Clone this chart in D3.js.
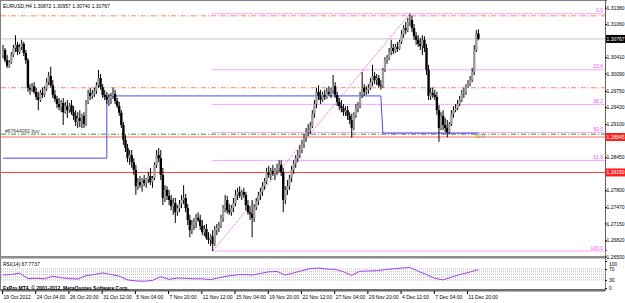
<!DOCTYPE html>
<html>
<head>
<meta charset="utf-8">
<script src="https://cdn.jsdelivr.net/npm/d3@7/dist/d3.min.js"></script>
<style>
  body { margin: 0; background: #ffffff; }
  svg text { font-family: 'Liberation Sans', Arial, sans-serif; font-size: 5px; }
</style>
</head>
<body>
<div id="chart"></div>
<script>
// EURUSD H4 candles, one entry per bar (oldest first)
var opens = [
  1.3045, 1.3055, 1.3035, 1.3024, 1.3031, 1.3045, 1.3059, 1.3065, 1.3051, 1.3061,
  1.3067, 1.3049, 1.3035, 1.2981, 1.2977, 1.2984, 1.2973, 1.2963, 1.2957, 1.2971,
  1.2967, 1.2979, 1.2992, 1.3004, 1.2986, 1.2967, 1.2959, 1.2949, 1.2943, 1.2951,
  1.2933, 1.2945, 1.2937, 1.2947, 1.2933, 1.2926, 1.2914, 1.2922, 1.2916, 1.2926,
  1.2910, 1.2953, 1.2971, 1.2965, 1.2969, 1.2975, 1.2986, 1.3000, 1.2982, 1.2967,
  1.2963, 1.2957, 1.2961, 1.2965, 1.2969, 1.2955, 1.2945, 1.2932, 1.2908, 1.2879,
  1.2863, 1.2843, 1.2849, 1.2835, 1.2820, 1.2788, 1.2796, 1.2790, 1.2800, 1.2794,
  1.2802, 1.2808, 1.2796, 1.2804, 1.2830, 1.2849, 1.2843, 1.2810, 1.2765, 1.2781,
  1.2769, 1.2761, 1.2749, 1.2755, 1.2737, 1.2745, 1.2753, 1.2761, 1.2765, 1.2745,
  1.2722, 1.2702, 1.2712, 1.2718, 1.2726, 1.2722, 1.2710, 1.2698, 1.2704, 1.2687,
  1.2683, 1.2690, 1.2675, 1.2702, 1.2706, 1.2710, 1.2726, 1.2745, 1.2761, 1.2741,
  1.2737, 1.2745, 1.2755, 1.2771, 1.2777, 1.2769, 1.2777, 1.2771, 1.2751, 1.2737,
  1.2734, 1.2726, 1.2747, 1.2759, 1.2771, 1.2777, 1.2788, 1.2798, 1.2816, 1.2810,
  1.2818, 1.2812, 1.2820, 1.2824, 1.2830, 1.2816, 1.2761, 1.2781, 1.2788, 1.2804,
  1.2820, 1.2832, 1.2843, 1.2849, 1.2859, 1.2871, 1.2883, 1.2894, 1.2898, 1.2906,
  1.2930, 1.2949, 1.2973, 1.2965, 1.2957, 1.2967, 1.2963, 1.2973, 1.2969, 1.2975,
  1.2984, 1.2967, 1.2953, 1.2945, 1.2941, 1.2933, 1.2937, 1.2926, 1.2918, 1.2902,
  1.2928, 1.2941, 1.2947, 1.2967, 1.2981, 1.2973, 1.2977, 1.2981, 1.2992, 1.3004,
  1.2996, 1.3000, 1.2986, 1.2984, 1.3016, 1.3035, 1.3039, 1.3051, 1.3059, 1.3053,
  1.3061, 1.3057, 1.3071, 1.3086, 1.3098, 1.3094, 1.3110, 1.3114, 1.3098, 1.3082,
  1.3075, 1.3067, 1.3063, 1.3075, 1.3059, 1.3016, 1.2965, 1.2971, 1.2967, 1.2963,
  1.2937, 1.2902, 1.2926, 1.2908, 1.2902, 1.2894, 1.2910, 1.2930, 1.2937, 1.2941,
  1.2949, 1.2957, 1.2971, 1.2973, 1.2984, 1.2988, 1.2996, 1.3012, 1.3055, 1.30872
];

var highs = [
  1.3065, 1.3059, 1.3045, 1.3035, 1.3051, 1.3065, 1.3084, 1.3071, 1.3067, 1.3075,
  1.3071, 1.3055, 1.3039, 1.2988, 1.2990, 1.2992, 1.2981, 1.2973, 1.2977, 1.2981,
  1.2984, 1.3000, 1.3012, 1.3022, 1.2996, 1.2977, 1.2965, 1.2961, 1.2957, 1.2961,
  1.2953, 1.2957, 1.2951, 1.2957, 1.2945, 1.2937, 1.2933, 1.2937, 1.2930, 1.2933,
  1.2957, 1.2977, 1.2981, 1.2977, 1.2981, 1.2992, 1.3016, 1.3008, 1.2988, 1.2977,
  1.2973, 1.2969, 1.2971, 1.2981, 1.2977, 1.2961, 1.2953, 1.2937, 1.2914, 1.2888,
  1.2871, 1.2859, 1.2859, 1.2843, 1.2830, 1.2804, 1.2808, 1.2804, 1.2810, 1.2804,
  1.2816, 1.2824, 1.2808, 1.2835, 1.2859, 1.2863, 1.2859, 1.2824, 1.2790, 1.2788,
  1.2781, 1.2771, 1.2765, 1.2765, 1.2751, 1.2761, 1.2771, 1.2790, 1.2773, 1.2753,
  1.2732, 1.2722, 1.2726, 1.2734, 1.2737, 1.2732, 1.2722, 1.2712, 1.2714, 1.2698,
  1.2694, 1.2702, 1.2710, 1.2714, 1.2718, 1.2732, 1.2751, 1.2771, 1.2769, 1.2753,
  1.2751, 1.2765, 1.2781, 1.2785, 1.2788, 1.2781, 1.2785, 1.2777, 1.2761, 1.2749,
  1.2761, 1.2753, 1.2765, 1.2777, 1.2785, 1.2796, 1.2804, 1.2824, 1.2828, 1.2824,
  1.2830, 1.2824, 1.2832, 1.2839, 1.2839, 1.2824, 1.2788, 1.2800, 1.2810, 1.2828,
  1.2839, 1.2849, 1.2859, 1.2869, 1.2879, 1.2890, 1.2902, 1.2910, 1.2914, 1.2937,
  1.2957, 1.2981, 1.2986, 1.2977, 1.2973, 1.2977, 1.2981, 1.2984, 1.2981, 1.3006,
  1.2992, 1.2973, 1.2961, 1.2957, 1.2949, 1.2945, 1.2945, 1.2933, 1.2930, 1.2933,
  1.2949, 1.2953, 1.2973, 1.3012, 1.2988, 1.2984, 1.2988, 1.3000, 1.3026, 1.3012,
  1.3008, 1.3006, 1.2996, 1.3020, 1.3041, 1.3045, 1.3059, 1.3075, 1.3067, 1.3067,
  1.3071, 1.3075, 1.3094, 1.3104, 1.3110, 1.3118, 1.3126, 1.3122, 1.3106, 1.3090,
  1.3084, 1.3079, 1.3084, 1.3082, 1.3067, 1.3026, 1.2981, 1.2981, 1.2977, 1.2973,
  1.2947, 1.2933, 1.2937, 1.2922, 1.2918, 1.2914, 1.2937, 1.2945, 1.2949, 1.2957,
  1.2965, 1.2977, 1.2981, 1.2988, 1.2996, 1.3004, 1.3020, 1.3065, 1.3094, 1.30957
];

var lows = [
  1.3039, 1.3031, 1.3020, 1.3020, 1.3028, 1.3041, 1.3051, 1.3045, 1.3047, 1.3055,
  1.3043, 1.3028, 1.2973, 1.2967, 1.2973, 1.2969, 1.2957, 1.2937, 1.2953, 1.2961,
  1.2963, 1.2975, 1.2986, 1.2981, 1.2961, 1.2953, 1.2941, 1.2937, 1.2933, 1.2908,
  1.2930, 1.2922, 1.2932, 1.2928, 1.2918, 1.2906, 1.2902, 1.2904, 1.2902, 1.2902,
  1.2906, 1.2949, 1.2957, 1.2959, 1.2963, 1.2969, 1.2981, 1.2977, 1.2961, 1.2957,
  1.2949, 1.2945, 1.2949, 1.2959, 1.2949, 1.2941, 1.2926, 1.2902, 1.2869, 1.2855,
  1.2835, 1.2830, 1.2824, 1.2810, 1.2771, 1.2781, 1.2785, 1.2777, 1.2788, 1.2785,
  1.2794, 1.2790, 1.2785, 1.2800, 1.2824, 1.2835, 1.2800, 1.2751, 1.2757, 1.2761,
  1.2751, 1.2741, 1.2732, 1.2716, 1.2730, 1.2737, 1.2745, 1.2753, 1.2737, 1.2712,
  1.2688, 1.2694, 1.2702, 1.2706, 1.2718, 1.2702, 1.2692, 1.2690, 1.2683, 1.2675,
  1.2671, 1.2661, 1.2671, 1.2692, 1.2698, 1.2706, 1.2718, 1.2737, 1.2734, 1.2732,
  1.2730, 1.2737, 1.2749, 1.2761, 1.2765, 1.2761, 1.2765, 1.2741, 1.2732, 1.2722,
  1.2688, 1.2718, 1.2741, 1.2751, 1.2761, 1.2769, 1.2781, 1.2792, 1.2804, 1.2800,
  1.2808, 1.2800, 1.2810, 1.2816, 1.2808, 1.2737, 1.2753, 1.2771, 1.2781, 1.2796,
  1.2812, 1.2824, 1.2835, 1.2843, 1.2853, 1.2863, 1.2875, 1.2886, 1.2890, 1.2902,
  1.2922, 1.2941, 1.2957, 1.2949, 1.2953, 1.2957, 1.2959, 1.2965, 1.2961, 1.2969,
  1.2961, 1.2945, 1.2937, 1.2933, 1.2926, 1.2926, 1.2918, 1.2910, 1.2883, 1.2898,
  1.2922, 1.2933, 1.2941, 1.2961, 1.2965, 1.2967, 1.2969, 1.2977, 1.2984, 1.2988,
  1.2986, 1.2981, 1.2977, 1.2981, 1.3012, 1.3028, 1.3035, 1.3045, 1.3047, 1.3049,
  1.3051, 1.3055, 1.3067, 1.3079, 1.3086, 1.3090, 1.3102, 1.3090, 1.3075, 1.3065,
  1.3061, 1.3055, 1.3045, 1.3051, 1.3006, 1.2957, 1.2957, 1.2961, 1.2957, 1.2928,
  1.2875, 1.2898, 1.2898, 1.2894, 1.2884, 1.2890, 1.2906, 1.2922, 1.2933, 1.2937,
  1.2945, 1.2953, 1.2961, 1.2967, 1.2981, 1.2984, 1.2992, 1.3006, 1.3051, 1.30740
];

var closes = [
  1.3055, 1.3035, 1.3024, 1.3031, 1.3045, 1.3059, 1.3065, 1.3051, 1.3061, 1.3067,
  1.3049, 1.3035, 1.2981, 1.2977, 1.2984, 1.2973, 1.2963, 1.2957, 1.2971, 1.2967,
  1.2979, 1.2992, 1.3004, 1.2986, 1.2967, 1.2959, 1.2949, 1.2943, 1.2951, 1.2933,
  1.2945, 1.2937, 1.2947, 1.2933, 1.2926, 1.2914, 1.2922, 1.2916, 1.2926, 1.2910,
  1.2953, 1.2971, 1.2965, 1.2969, 1.2975, 1.2986, 1.3000, 1.2982, 1.2967, 1.2963,
  1.2957, 1.2961, 1.2965, 1.2969, 1.2955, 1.2945, 1.2932, 1.2908, 1.2879, 1.2863,
  1.2843, 1.2849, 1.2835, 1.2820, 1.2788, 1.2796, 1.2790, 1.2800, 1.2794, 1.2802,
  1.2808, 1.2796, 1.2804, 1.2830, 1.2849, 1.2843, 1.2810, 1.2765, 1.2781, 1.2769,
  1.2761, 1.2749, 1.2755, 1.2737, 1.2745, 1.2753, 1.2761, 1.2765, 1.2745, 1.2722,
  1.2702, 1.2712, 1.2718, 1.2726, 1.2722, 1.2710, 1.2698, 1.2704, 1.2687, 1.2683,
  1.2690, 1.2675, 1.2702, 1.2706, 1.2710, 1.2726, 1.2745, 1.2761, 1.2741, 1.2737,
  1.2745, 1.2755, 1.2771, 1.2777, 1.2769, 1.2777, 1.2771, 1.2751, 1.2737, 1.2734,
  1.2726, 1.2747, 1.2759, 1.2771, 1.2777, 1.2788, 1.2798, 1.2816, 1.2810, 1.2818,
  1.2812, 1.2820, 1.2824, 1.2830, 1.2816, 1.2761, 1.2781, 1.2788, 1.2804, 1.2820,
  1.2832, 1.2843, 1.2849, 1.2859, 1.2871, 1.2883, 1.2894, 1.2898, 1.2906, 1.2930,
  1.2949, 1.2973, 1.2965, 1.2957, 1.2967, 1.2963, 1.2973, 1.2969, 1.2975, 1.2984,
  1.2967, 1.2953, 1.2945, 1.2941, 1.2933, 1.2937, 1.2926, 1.2918, 1.2902, 1.2928,
  1.2941, 1.2947, 1.2967, 1.2981, 1.2973, 1.2977, 1.2981, 1.2992, 1.3004, 1.2996,
  1.3000, 1.2986, 1.2984, 1.3016, 1.3035, 1.3039, 1.3051, 1.3059, 1.3053, 1.3061,
  1.3057, 1.3071, 1.3086, 1.3098, 1.3094, 1.3110, 1.3114, 1.3098, 1.3082, 1.3075,
  1.3067, 1.3063, 1.3075, 1.3059, 1.3016, 1.2965, 1.2971, 1.2967, 1.2963, 1.2937,
  1.2902, 1.2926, 1.2908, 1.2902, 1.2894, 1.2910, 1.2930, 1.2937, 1.2941, 1.2949,
  1.2957, 1.2971, 1.2973, 1.2984, 1.2988, 1.2996, 1.3012, 1.3055, 1.3087, 1.30767
];

// RSI(14), read every 4th bar, plus the last bar
var rsiValues = [
  48, 50, 55, 35, 36, 34, 44, 38, 35, 33,
  46, 50, 56, 50, 44, 30, 26, 25, 28, 42,
  32, 37, 36, 34, 34, 31, 38, 44, 48, 50,
  48, 54, 60, 61, 48, 56, 64, 72, 74, 70,
  69, 60, 47, 62, 63, 64, 68, 71, 74, 76,
  62, 50, 36, 30, 40, 50, 57, 66
];
var rsiLast = 67.7737;
var rsiLevels = [30, 40, 50, 60, 70];
var rsiAxisTicks = [0, 30, 70, 100];

// Time axis: bar index of each label
var timeBars   = [0, 16, 32, 48, 64, 80, 96, 112, 128, 144, 160, 176, 192, 208, 224];
var timeLabels = ['19 Oct 2012', '24 Oct 04:00', '26 Oct 20:00', '31 Oct 12:00', '5 Nov 04:00',
                  '7 Nov 20:00', '12 Nov 12:00', '15 Nov 04:00', '19 Nov 20:00', '22 Nov 12:00',
                  '27 Nov 04:00', '29 Nov 20:00', '4 Dec 12:00', '7 Dec 04:00', '11 Dec 20:00'];

// Price axis labels
var priceTicks = [1.3138, 1.3106, 1.3041, 1.3009, 1.2975, 1.2943, 1.2910, 1.2845,
                  1.2780, 1.2747, 1.2715, 1.2682, 1.2650];

// Horizontal objects
var currentPrice = 1.30767;
var orangeLevels = [1.3122, 1.2981];
var buyPrice     = 1.2890;
var pinkLevel    = 1.28845;
var redLevel     = 1.28150;

// Blue step line (bar index, price)
var blueBars   = [0, 50, 50, 182, 183, 229];
var bluePrices = [1.2843, 1.2843, 1.2965, 1.2965, 1.2892, 1.2892];

// Fibonacci retracement
var fibLowBar  = 101, fibLow  = 1.2661;
var fibHighBar = 196, fibHigh = 1.3126;
var fibLevels  = [0, 23.6, 38.2, 50, 61.8, 100];


function DrawChart ()
{
    var W = 625, H = 303;
    var plotRight = 605;

    var bars = closes.map (function (c, i) {
        return { i: i, o: opens[i], h: highs[i], l: lows[i], c: c };
    });

    // Scales
    var x = d3.scaleLinear ()
              .domain ([0, 229])
              .range ([2, 477.4]);

    var y = d3.scaleLinear ()
              .domain ([1.2663, 1.3153])
              .range ([250, 0]);

    var yRsi = d3.scaleLinear ()
                 .domain ([0, 100])
                 .range ([288, 261]);

    var svg = d3.select ('#chart')
                .append ('svg')
                .attr ('width', W)
                .attr ('height', H);

    svg.append ('rect')
       .attr ('width', W).attr ('height', H)
       .attr ('fill', '#ffffff');

    var hline = function (price, color, width, dash, x0)
    {
        svg.append ('line')
           .attr ('x1', x0 === undefined ? 1 : x0)
           .attr ('x2', plotRight)
           .attr ('y1', y (price))
           .attr ('y2', y (price))
           .attr ('stroke', color)
           .attr ('stroke-width', width)
           .attr ('stroke-dasharray', dash);
    };

    // Horizontal objects
    hline (currentPrice, '#c8c8c8', 1, null);
    orangeLevels.forEach (function (p) { hline (p, '#f58a6a', 1, '5,2,1,2'); });
    hline (pinkLevel, '#ff9a9a', 1.6, null);
    hline (buyPrice, '#2e9a2e', 1, '5,2,1,2');
    hline (redLevel, '#ff3a3a', 1, null);

    // Fibonacci levels
    var fibPrice = function (lv) { return fibHigh - (fibHigh - fibLow) * lv / 100; };

    fibLevels.forEach (function (lv)
    {
        hline (fibPrice (lv), '#f050f0', 1, '1,1', x (fibLowBar) + 1);
    });

    svg.append ('line')
       .attr ('x1', x (fibLowBar) + 1).attr ('y1', y (fibLow))
       .attr ('x2', x (fibHighBar) + 1).attr ('y2', y (fibHigh))
       .attr ('stroke', '#f050f0')
       .attr ('stroke-dasharray', '1,1');

    svg.selectAll ('.fibLabel')
       .data (fibLevels)
       .join ('text')
       .attr ('class', 'fibLabel')
       .attr ('x', plotRight - 2)
       .attr ('y', function (d) { return y (fibPrice (d)) - 1.5; })
       .attr ('text-anchor', 'end')
       .attr ('fill', '#f050f0')
       .text (d3.format ('.1f'));

    // Blue step line
    var blueLine = d3.line ()
                     .x (function (d, i) { return x (d) + 1; })
                     .y (function (d, i) { return y (bluePrices[i]); });

    svg.append ('path')
       .datum (blueBars)
       .attr ('d', blueLine)
       .attr ('fill', 'none')
       .attr ('stroke', '#4a4af5')
       .attr ('stroke-width', 1);

    // Candles
    var candles = svg.append ('g')
                     .selectAll ('g')
                     .data (bars)
                     .join ('g');

    candles.append ('line')
           .attr ('x1', function (d) { return x (d.i) + 1; })
           .attr ('x2', function (d) { return x (d.i) + 1; })
           .attr ('y1', function (d) { return y (d.h); })
           .attr ('y2', function (d) { return y (d.l); })
           .attr ('stroke', '#000')
           .attr ('stroke-width', 1);

    candles.append ('rect')
           .attr ('x', function (d) { return x (d.i) - 0.2; })
           .attr ('width', 2.4)
           .attr ('y', function (d) { return y (Math.max (d.o, d.c)); })
           .attr ('height', function (d) { return Math.max (1, Math.abs (y (d.o) - y (d.c))); })
           .attr ('fill', function (d) { return d.c >= d.o ? '#9c9c9c' : '#000'; });

    // Text on the chart
    svg.append ('text')
       .attr ('x', 3).attr ('y', 8)
       .attr ('fill', '#000')
       .text ('EURUSD,H4  ' + [opens[229], highs[229], lows[229], closes[229]].map (d3.format ('.5f')).join (' '));

    svg.append ('text')
       .attr ('x', 5).attr ('y', y (buyPrice) - 1.5)
       .attr ('fill', '#404040')
       .text ('#67644092 buy');

    svg.append ('text')
       .attr ('x', x (228)).attr ('y', y (buyPrice) + 4)
       .attr ('fill', '#8c9c20')
       .attr ('font-size', 4)
       .text ('50.0');

    // Panel frame and separators
    svg.append ('rect')
       .attr ('x', 0.5).attr ('y', 0.5)
       .attr ('width', plotRight).attr ('height', 290)
       .attr ('fill', 'none')
       .attr ('stroke', '#808080');

    svg.append ('rect')
       .attr ('x', 1).attr ('y', 256).attr ('width', plotRight - 1).attr ('height', 2.5)
       .attr ('fill', '#8c8c8c');

    svg.append ('rect')
       .attr ('x', 1).attr ('y', 289).attr ('width', plotRight - 1).attr ('height', 2.5)
       .attr ('fill', '#6e6e6e');

    // Price axis
    var yAxis = d3.axisRight (y)
                  .tickValues (priceTicks)
                  .tickFormat (d3.format ('.5f'))
                  .tickSize (2);

    var gy = svg.append ('g')
                .attr ('transform', 'translate(' + plotRight + ',0)')
                .call (yAxis);
    gy.select ('.domain').attr ('stroke', '#606060');
    gy.selectAll ('text')
      .attr ('x', 19.6)
      .attr ('text-anchor', 'end')
      .attr ('font-size', 4.5)
      .attr ('font-family', 'Liberation Sans, Arial');

    // Price boxes on the axis
    var boxes = [ { p: currentPrice, fill: '#000' },
                  { p: pinkLevel,    fill: '#ff2020' },
                  { p: redLevel,     fill: '#ff2020' } ];

    boxes.forEach (function (b)
    {
        svg.append ('rect')
           .attr ('x', plotRight + 1).attr ('y', y (b.p) - 4)
           .attr ('width', 19).attr ('height', 8)
           .attr ('fill', b.fill);
        svg.append ('text')
           .attr ('x', plotRight + 19.6).attr ('y', y (b.p) + 1.7)
           .attr ('text-anchor', 'end')
           .attr ('fill', '#fff')
           .attr ('font-size', 4.5)
           .text (d3.format ('.5f') (b.p));
    });

    // RSI panel
    rsiLevels.forEach (function (lv)
    {
        svg.append ('line')
           .attr ('x1', 1).attr ('x2', plotRight)
           .attr ('y1', yRsi (lv)).attr ('y2', yRsi (lv))
           .attr ('stroke', '#b8b8b8')
           .attr ('stroke-dasharray', '1,1');
    });

    var rsiPts = rsiValues.map (function (v, k) { return [k * 4, v]; });
    rsiPts.push ([229, rsiLast]);

    svg.append ('path')
       .datum (rsiPts)
       .attr ('d', d3.line ()
                     .x (function (d) { return x (d[0]) + 1; })
                     .y (function (d) { return yRsi (d[1]); }))
       .attr ('fill', 'none')
       .attr ('stroke', '#a040f0')
       .attr ('stroke-width', 1);

    svg.append ('text')
       .attr ('x', 3).attr ('y', 266)
       .attr ('fill', '#000')
       .text ('RSI(14) ' + rsiLast);

    var rAxis = d3.axisRight (yRsi)
                  .tickValues (rsiAxisTicks)
                  .tickSize (2)
                  .tickPadding (2);

    var gr = svg.append ('g')
                .attr ('transform', 'translate(' + plotRight + ',0)')
                .call (rAxis);
    gr.select ('.domain').remove ();
    gr.selectAll ('text')
      .attr ('font-size', function (d) { return (d === 0 || d === 100) ? 4.5 : 3.5; })
      .attr ('dy', function (d) { return d === 100 ? '0.9em' : '0.32em'; })
      .attr ('font-family', 'Liberation Sans, Arial');

    svg.append ('text')
       .attr ('x', 3).attr ('y', 290)
       .attr ('fill', '#000')
       .attr ('font-weight', 'bold')
       .attr ('font-size', 5.3)
       .text ('FxPro MT4, \u00a9 2001-2012, MetaQuotes Software Corp.');

    // Time axis
    var xAxis = d3.axisBottom (x)
                  .tickValues (timeBars)
                  .tickFormat (function (d, i) { return timeLabels[i]; })
                  .tickSize (3)
                  .tickPadding (1);

    var gx = svg.append ('g')
                .attr ('transform', 'translate(0,291)')
                .call (xAxis);
    gx.select ('.domain').remove ();
    gx.selectAll ('text')
      .attr ('text-anchor', 'start')
      .attr ('dx', 1)
      .attr ('font-size', 5)
      .attr ('font-family', 'Liberation Sans, Arial');
}

DrawChart ();
</script>
</body>
</html>
